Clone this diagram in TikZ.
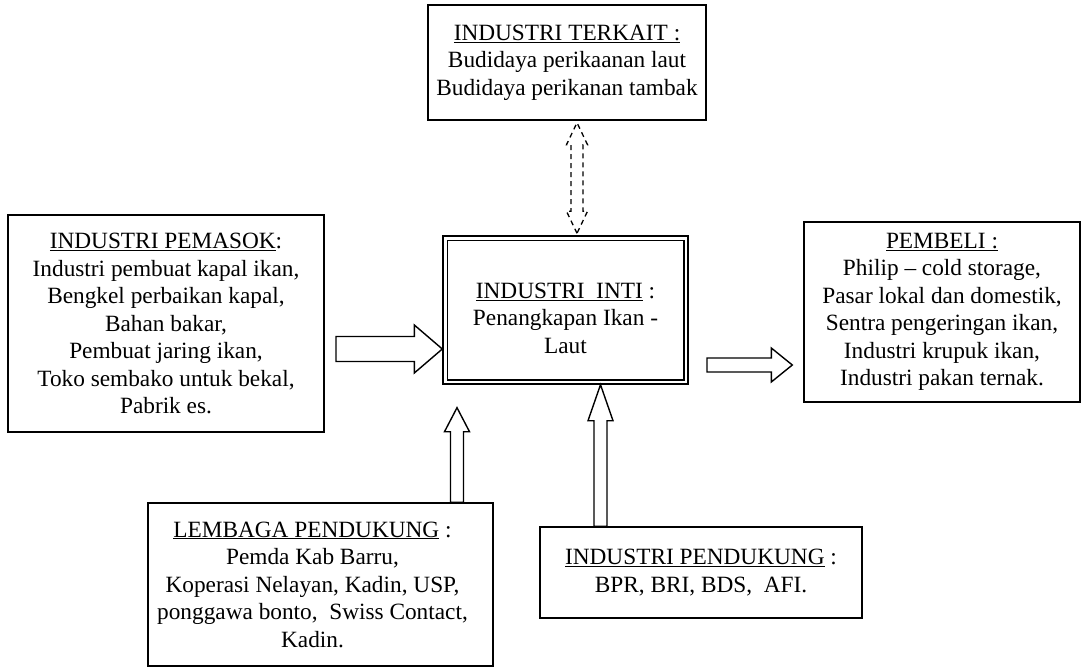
\documentclass[tikz,border=0pt]{standalone}
\usepackage{fontspec}
\setmainfont{Liberation Serif}
\usetikzlibrary{calc}
\tikzset{
  box/.style={draw, line width=1.4pt, rectangle, align=center, inner sep=0pt,
    font=\fontsize{23.3}{27.5}\selectfont},
  txt/.style={align=center, inner sep=0pt, font=\fontsize{23.3}{27.5}\selectfont},
  blk/.style={draw, line width=1.4pt, fill=white, line join=miter},
  dsh/.style={draw, line width=1.3pt, dash pattern=on 5pt off 4pt}
}
\newcommand\harr[5]{\path[blk] let \p1=(#1), \p2=(#2) in
  (\x1,\y1+#3) -- (\x2-#5,\y1+#3) -- (\x2-#5,\y1+#4) -- (\x2,\y1) --
  (\x2-#5,\y1-#4) -- (\x2-#5,\y1-#3) -- (\x1,\y1-#3) -- cycle;}
\newcommand\varr[5]{\path[blk] let \p1=(#1), \p2=(#2) in
  (\x1-#3,\y1) -- (\x1-#3,\y2-#5) -- (\x1-#4,\y2-#5) -- (\x1,\y2) --
  (\x1+#4,\y2-#5) -- (\x1+#3,\y2-#5) -- (\x1+#3,\y1) -- cycle;}
\newcommand\dvarr[5]{\path[dsh] let \p1=(#1), \p2=(#2) in
  (\x1,\y1) -- (\x1-#4,\y1+#5) -- (\x1-#3,\y1+#5) -- (\x1-#3,\y2-#5) --
  (\x1-#4,\y2-#5) -- (\x1,\y2) -- (\x1+#4,\y2-#5) -- (\x1+#3,\y2-#5) --
  (\x1+#3,\y1+#5) -- (\x1+#4,\y1+#5) -- cycle;}
\begin{document}
\begin{tikzpicture}[x=1pt,y=-1pt]
\useasboundingbox[fill=white] (0,0) rectangle (1084,671);

% boxes
\node[box, minimum width=278, minimum height=115] (terkait) at (567,62.5)
  {\underline{INDUSTRI TERKAIT :}\\Budidaya perikaanan laut\\Budidaya perikanan tambak};
\node[box, minimum width=316, minimum height=217] (pemasok) at (166,323.5)
  {\underline{INDUSTRI PEMASOK}:\\Industri pembuat kapal ikan,\\Bengkel perbaikan kapal,\\Bahan bakar,\\Pembuat jaring ikan,\\Toko sembako untuk bekal,\\Pabrik es.};
\node[box, minimum width=245, minimum height=148] (inti) at (565.5,310) {};
\draw[line width=1.6pt] ($(inti.north west)+(5,5)$) rectangle ($(inti.south east)+(-5,-5)$);
\node[txt] (intitxt) at ($(inti.center)+(0,8)$)
  {\underline{INDUSTRI\ \ INTI} :\\Penangkapan Ikan -\\Laut};
\node[box, minimum width=276, minimum height=180] (pembeli) at (942,312)
  {\underline{PEMBELI :}\\Philip \textendash{} cold storage,\\Pasar lokal dan domestik,\\Sentra pengeringan ikan,\\Industri krupuk ikan,\\Industri pakan ternak.};
\node[box, minimum width=345, minimum height=163] (lembaga) at (320.5,584.5) {};
\node[txt] (lembagatxt) at ($(lembaga.center)+(-8,0)$)
  {\underline{LEMBAGA PENDUKUNG} :\\Pemda Kab Barru,\\Koperasi Nelayan, Kadin, USP,\\ponggawa bonto,\ \ Swiss Contact,\\Kadin.};
\node[box, minimum width=322, minimum height=91] (pendukung) at (701,572.5)
  {\underline{INDUSTRI PENDUKUNG} :\\BPR, BRI, BDS,\ \ AFI.};

% connector end points
\coordinate (a1s) at (336,349);
\coordinate (a1e) at (a1s -| inti.west);
\coordinate (a2s) at (707,365);
\coordinate (a2e) at ($(a2s -| pembeli.west)+(-11,0)$);
\coordinate (a3s) at (457,0);
\coordinate (a3b) at (a3s |- lembaga.north);
\coordinate (a3t) at ($(a3s |- inti.south)+(0,23)$);
\coordinate (a4s) at (600.5,0);
\coordinate (a4b) at (a4s |- pendukung.north);
\coordinate (a4t) at (a4s |- inti.south);
\coordinate (a5s) at (577,0);
\coordinate (a5b) at ($(a5s |- inti.north)+(0,-2)$);
\coordinate (a5t) at ($(a5s |- terkait.south)+(0,2)$);

% connectors
\harr{a1s}{a1e}{12.5}{24}{28}
\harr{a2s}{a2e}{7}{17}{21}
\varr{a3b}{a3t}{6.5}{12.5}{24}
\varr{a4b}{a4t}{6.5}{12.5}{36}
\dvarr{a5b}{a5t}{6}{10.5}{22}
\end{tikzpicture}
\end{document}
